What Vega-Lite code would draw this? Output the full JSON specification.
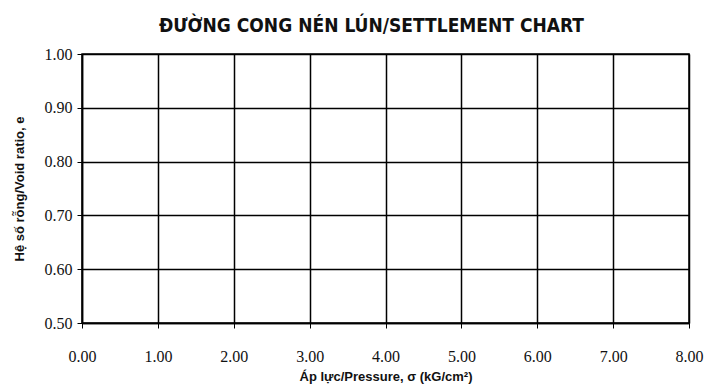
{
  "$schema": "https://vega.github.io/schema/vega-lite/v6.json",
  "width": 607,
  "height": 269,
  "autosize": {"type": "none"},
  "padding": {"left": 82, "top": 54, "right": 15, "bottom": 64},
  "background": "white",
  "title": {
    "text": "ĐƯỜNG CONG NÉN LÚN/SETTLEMENT CHART",
    "font": "DejaVu Sans Condensed, Liberation Sans",
    "fontSize": 19,
    "fontWeight": "bold",
    "color": "#111",
    "anchor": "middle",
    "offset": 10,
    "dx": -14
  },
  "data": {"values": []},
  "mark": {"type": "point", "color": "black"},
  "encoding": {
    "x": {
      "field": "pressure",
      "type": "quantitative",
      "scale": {"domain": [0, 8], "nice": false, "zero": false},
      "axis": {
        "values": [0, 1, 2, 3, 4, 5, 6, 7, 8],
        "format": ".2f",
        "title": "Áp lực/Pressure, σ (kG/cm²)",
        "titleFont": "Liberation Sans",
        "titleFontSize": 13,
        "titleFontWeight": "bold",
        "titleColor": "#111",
        "titlePadding": 6,
        "labelFont": "Liberation Serif",
        "labelFontSize": 16,
        "labelColor": "#111",
        "labelPadding": 20,
        "labelFlush": false,
        "tickSize": 5,
        "tickColor": "black",
        "domainColor": "black",
        "domainWidth": 1.5,
        "grid": true,
        "gridColor": "black",
        "gridWidth": 1.5,
        "gridOpacity": 1
      }
    },
    "y": {
      "field": "void_ratio",
      "type": "quantitative",
      "scale": {"domain": [0.5, 1.0], "nice": false, "zero": false},
      "axis": {
        "values": [0.5, 0.6, 0.7, 0.8, 0.9, 1.0],
        "format": ".2f",
        "title": "Hệ số rỗng/Void ratio, e",
        "titleFont": "Liberation Sans",
        "titleFontSize": 13,
        "titleFontWeight": "bold",
        "titleColor": "#111",
        "titlePadding": 18,
        "labelFont": "Liberation Serif",
        "labelFontSize": 16,
        "labelColor": "#111",
        "labelPadding": 5,
        "labelFlush": false,
        "tickSize": 5,
        "tickColor": "black",
        "domainColor": "black",
        "domainWidth": 1.5,
        "grid": true,
        "gridColor": "black",
        "gridWidth": 1.5,
        "gridOpacity": 1
      }
    }
  },
  "config": {
    "view": {"stroke": "black", "strokeWidth": 1.5}
  }
}
